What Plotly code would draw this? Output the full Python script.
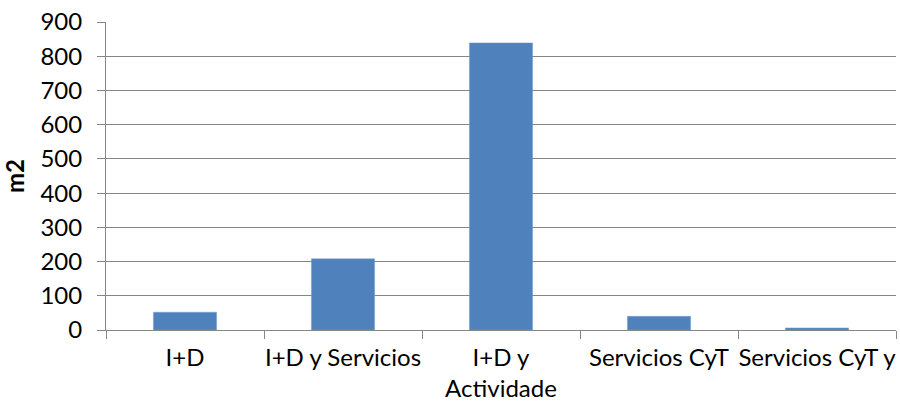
import plotly.graph_objects as go

categories = ["I+D", "I+D y Servicios", "I+D y Actividade", "Servicios CyT", "Servicios CyT y"]
tick_labels = ["I+D", "I+D y Servicios", "I+D y<br>Actividade", "Servicios CyT", "Servicios CyT y"]
values = [52, 208, 839, 40, 6]
y_ticks = [0, 100, 200, 300, 400, 500, 600, 700, 800, 900]

FONT = "Lato"
GRAY = "#868686"
FS = 24

fig = go.Figure(go.Bar(
    x=categories, y=values,
    marker=dict(color="#4F81BD", line=dict(color="#7BA0CD", width=0.5)),
    cliponaxis=False,
))

fig.update_layout(
    width=900, height=406,
    margin=dict(l=106, r=4, t=22, b=76),
    paper_bgcolor="white", plot_bgcolor="white",
    bargap=0.6,
    showlegend=False,
    font=dict(family=FONT, size=FS, color="black"),
)
fig.update_xaxes(
    type="category", automargin=False,
    tickvals=categories, ticktext=tick_labels,
    tickson="boundaries", ticks="outside", ticklen=8, tickcolor=GRAY, tickwidth=1,
    showline=True, linecolor=GRAY, linewidth=1,
    showgrid=False,
    tickfont=dict(family=FONT, size=FS),
    ticklabelstandoff=6,
    tickangle=0,
)
fig.update_yaxes(
    range=[0, 900], tickvals=y_ticks, automargin=False,
    ticks="outside", ticklen=8, tickcolor=GRAY, tickwidth=1,
    showline=True, linecolor=GRAY, linewidth=1,
    showgrid=True, gridcolor=GRAY, gridwidth=1,
    zeroline=False,
    tickfont=dict(family=FONT, size=FS),
    ticklabelstandoff=10,
    title=dict(text="<b>m2</b>", font=dict(family=FONT, size=FS), standoff=12),
)

fig.write_html(
    "out.html",
    config={"displayModeBar": False},
    post_script="document.body.style.margin='0';document.body.style.overflow='hidden';",
)
